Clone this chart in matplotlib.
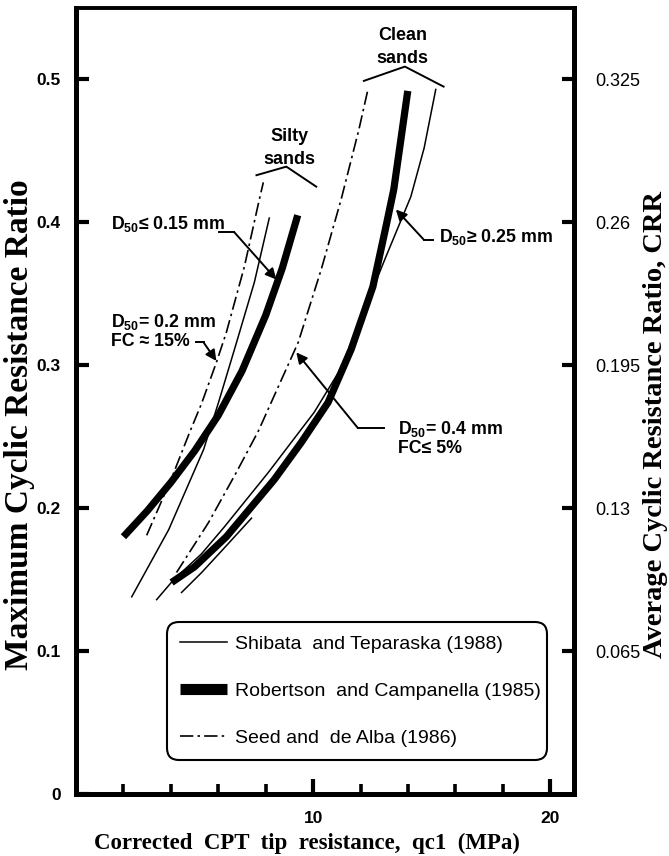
import matplotlib
matplotlib.use("Agg")
import matplotlib.pyplot as plt
from matplotlib.lines import Line2D

plt.rcParams['font.family'] = ['Liberation Sans', 'DejaVu Sans']
plt.rcParams['mathtext.default'] = 'regular'

# Robertson and Campanella (1985), thick curves
rc_silty_x = [2.0, 3.0, 4.0, 5.0, 6.0, 7.0, 8.0, 8.7, 9.35]
rc_silty_y = [0.180, 0.198, 0.218, 0.240, 0.265, 0.296, 0.335, 0.368, 0.405]
rc_clean_x = [4.03, 5.0, 6.34, 8.36, 9.5, 10.63, 11.6, 12.52, 13.07, 13.4, 13.7, 13.99]
rc_clean_y = [0.148, 0.159, 0.180, 0.220, 0.246, 0.274, 0.311, 0.355, 0.397, 0.423, 0.458, 0.492]

# Shibata and Teparaska (1988), thin curves
st_silty_x = [2.35, 3.91, 5.38, 6.01, 6.68, 7.52, 8.15]
st_silty_y = [0.138, 0.185, 0.241, 0.274, 0.311, 0.358, 0.403]
st_clean_x = [3.4, 4.12, 5.29, 6.26, 8.11, 10.04, 11.18, 12.02, 13.07, 14.12, 14.68, 15.17]
st_clean_y = [0.136, 0.150, 0.168, 0.187, 0.225, 0.267, 0.298, 0.333, 0.376, 0.418, 0.452, 0.493]
st_low_x = [4.45, 5.3, 6.3, 7.4]
st_low_y = [0.141, 0.155, 0.173, 0.193]

# Seed and de Alba (1986), dash-dot curves
sa_silty_x = [2.98, 4.03, 4.79, 5.29, 5.92, 6.34, 7.10, 7.73, 7.90]
sa_silty_y = [0.181, 0.221, 0.253, 0.273, 0.302, 0.323, 0.369, 0.416, 0.428]
sa_clean_x = [4.24, 5.59, 6.76, 7.69, 8.53, 9.37, 10.34, 11.18, 11.93, 12.31]
sa_clean_y = [0.155, 0.190, 0.225, 0.254, 0.285, 0.316, 0.367, 0.416, 0.465, 0.493]

left_ticks = [0, 0.1, 0.2, 0.3, 0.4, 0.5]
left_labels = ['0', '0.1', '0.2', '0.3', '0.4', '0.5']
right_ticks = [0.065, 0.13, 0.195, 0.26, 0.325]
right_labels = ['0.065', '0.13', '0.195', '0.26', '0.325']
crr_factor = 0.65

legend_labels = ['Shibata  and Teparaska (1988)',
                 'Robertson  and Campanella (1985)',
                 'Seed and  de Alba (1986)']

W, H = 669, 856
fig = plt.figure(figsize=(W / 100, H / 100), dpi=100)
ax = fig.add_axes([76 / W, 1 - 794 / H, 498 / W, 786 / H])

ax.set_xlim(0, 21)
ax.set_ylim(0, 0.55)

thick = dict(color='black', lw=5.2, solid_capstyle='butt', solid_joinstyle='round')
thin = dict(color='black', lw=1.1, solid_joinstyle='round')
dashdot = dict(color='black', lw=1.2, dashes=[8, 2.5, 1.5, 2.5])

ax.plot(st_silty_x, st_silty_y, **thin)
ax.plot(st_clean_x, st_clean_y, **thin)
ax.plot(st_low_x, st_low_y, **thin)
ax.plot(sa_silty_x, sa_silty_y, **dashdot)
ax.plot(sa_clean_x, sa_clean_y, **dashdot)
ax.plot(rc_silty_x, rc_silty_y, **thick)
ax.plot(rc_clean_x, rc_clean_y, **thick)

# brackets over the two groups
ax.plot([12.14, 13.87, 15.5], [0.499, 0.509, 0.495], color='black', lw=1.4)
ax.plot([7.61, 8.87, 10.13], [0.433, 0.439, 0.425], color='black', lw=1.4)
lab = dict(fontsize=13, fontweight='bold', ha='center', va='center')
ax.text(13.78, 0.531, 'Clean', **lab)
ax.text(13.78, 0.515, 'sands', **lab)
ax.text(8.99, 0.460, 'Silty', **lab)
ax.text(8.99, 0.444, 'sands', **lab)

# callouts: text position, leader start, elbow, arrow tip
callouts = [
    ('D$_{50}$≤ 0.15 mm', (1.47, 0.399), (6.05, 0.393), (6.68, 0.393), (8.45, 0.360)),
    ('D$_{50}$= 0.2 mm\nFC ≈ 15%', (1.47, 0.324), (5.04, 0.316), (5.38, 0.316), (5.92, 0.303)),
    ('D$_{50}$≥ 0.25 mm', (15.29, 0.390), (15.04, 0.388), (14.66, 0.388), (13.49, 0.409)),
    ('D$_{50}$= 0.4 mm\nFC≤ 5%', (13.57, 0.249), (12.98, 0.256), (11.89, 0.256), (9.29, 0.309)),
]
for txt, pos, start, elbow, tip in callouts:
    ax.text(pos[0], pos[1], txt, fontsize=12.8, fontweight='bold',
            ha='left', va='center', linespacing=1.1)
    ax.plot([start[0], elbow[0]], [start[1], elbow[1]], color='black', lw=1.4)
    ax.annotate('', xy=tip, xytext=elbow,
                arrowprops=dict(arrowstyle='-|>', color='black', lw=1.4,
                                shrinkA=0, shrinkB=0, mutation_scale=16))

# axes styling
for side in ['left', 'right', 'bottom']:
    ax.spines[side].set_linewidth(3.6)
ax.spines['top'].set_linewidth(2.8)

ax.set_xticks([10, 20])
ax.set_xticklabels(['10', '20'])
ax.set_xticks([2, 4, 6, 8, 12, 14, 16, 18], minor=True)
ax.tick_params(axis='x', which='major', direction='in', length=11, width=3,
               labelsize=12.5, pad=12)
ax.tick_params(axis='x', which='minor', direction='in', length=7, width=2.6)
for t in ax.get_xticklabels():
    t.set_fontweight('bold')

ax.set_yticks(left_ticks)
ax.set_yticklabels(left_labels, fontweight='bold')
ax.tick_params(axis='y', which='major', direction='in', length=9, width=3,
               labelsize=12.5, pad=11)

ax2 = ax.twinx()
ax2.set_ylim(0, 0.55 * crr_factor)
ax2.set_yticks(right_ticks)
ax2.set_yticklabels(right_labels)
ax2.tick_params(axis='y', direction='in', length=9, width=3, labelsize=13, pad=15)
for s in ax2.spines.values():
    s.set_visible(False)

# legend
handles = [Line2D([], [], **thin),
           Line2D([], [], color='black', lw=8, solid_capstyle='butt'),
           Line2D([], [], **dashdot)]
leg = ax.legend(handles, legend_labels, loc='lower left',
                bbox_to_anchor=(0.1827, 0.0433, 0.763, 0.176), mode='expand',
                fontsize=14, handlelength=2.4, handletextpad=0.4,
                labelspacing=1.5, borderpad=0.68, borderaxespad=0,
                frameon=True, fancybox=True)
frame = leg.get_frame()
frame.set_edgecolor('black')
frame.set_linewidth(1.5)
frame.set_alpha(1)
frame.set_boxstyle('round,pad=0,rounding_size=0.6')

serif = dict(family=['Liberation Serif', 'DejaVu Serif'], fontweight='bold')
fig.text(307 / W, 1 - 843 / H, 'Corrected  CPT  tip  resistance,  qc1  (MPa)',
         fontsize=16.5, ha='center', va='center', **serif)
fig.text(20 / W, 1 - 425 / H, 'Maximum Cyclic Resistance Ratio',
         fontsize=24, rotation=90, ha='center', va='center', **serif)
fig.text(655 / W, 1 - 425 / H, 'Average Cyclic Resistance Ratio, CRR',
         fontsize=20.5, rotation=90, ha='center', va='center', **serif)

fig.savefig('out.png', dpi=100)
